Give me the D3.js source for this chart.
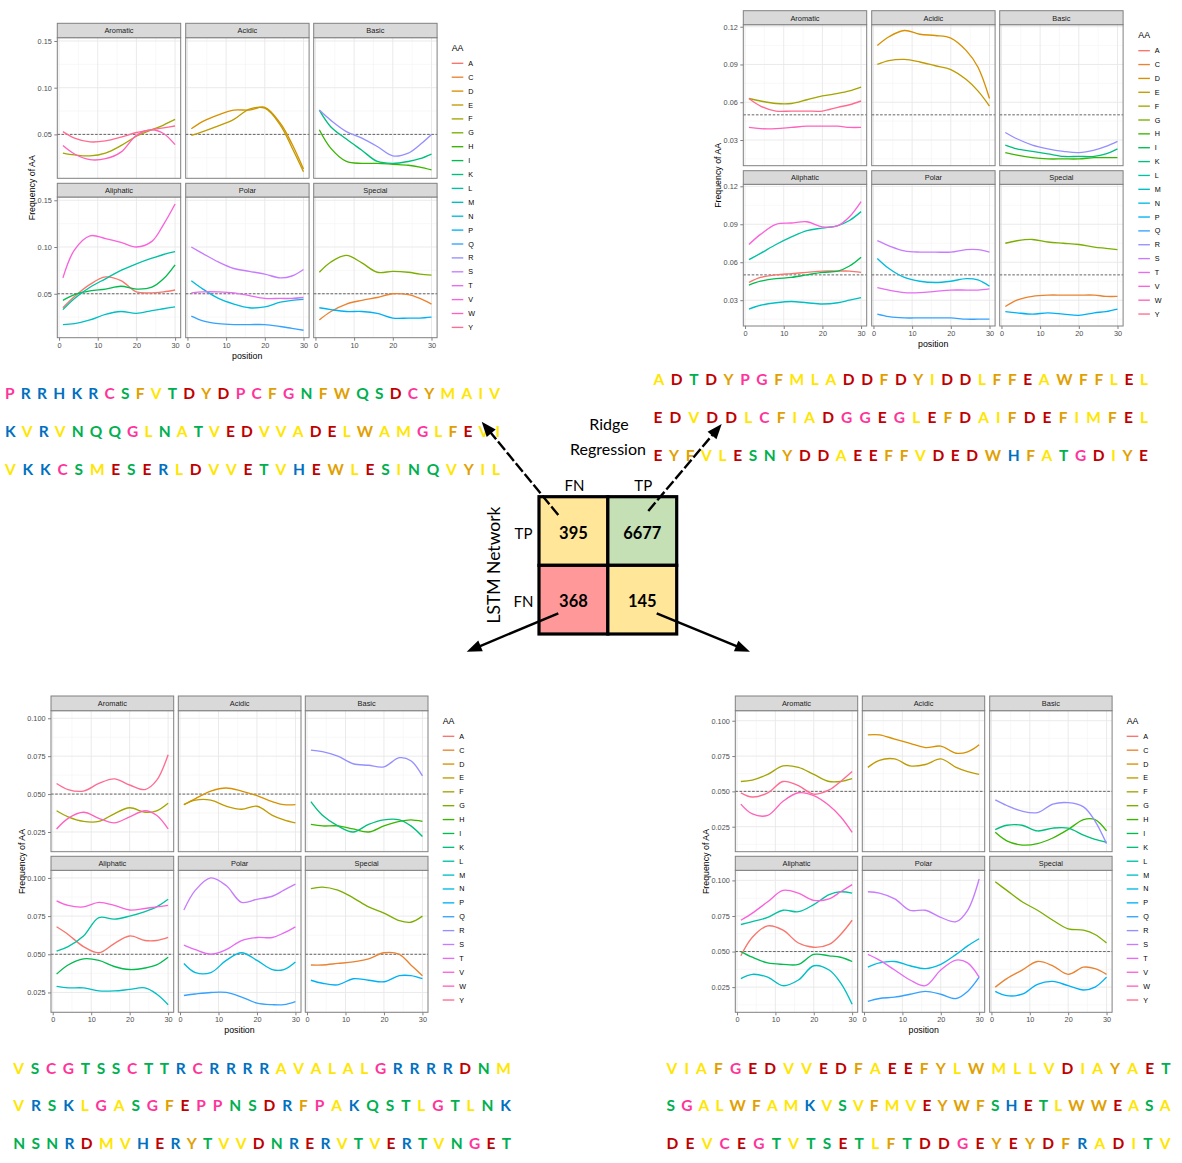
<!DOCTYPE html>
<html><head><meta charset="utf-8">
<script src="https://cdn.jsdelivr.net/npm/d3@7"></script>
<style>body{margin:0;background:#fff} svg{display:block}</style>
</head><body>
<svg id="fig" width="1182" height="1163"></svg>
<script>
// ---------------- DATA ----------------
const AA_LIST = ["A","C","D","E","F","G","H","I","K","L","M","N","P","Q","R","S","T","V","W","Y"];
const AA_COLORS = ["#F8766D","#EA8331","#D89000","#C09B00","#A3A500","#7CAE00","#39B600","#00BB4E","#00BF7D","#00C1A3",
                   "#00BFC4","#00BAE0","#00B0F6","#35A2FF","#9590FF","#C77CFF","#E76BF3","#FA62DB","#FF62BC","#FF6C91"];
const FACETS = ["Aromatic","Acidic","Basic","Aliphatic","Polar","Special"];
const POSITIONS = [1, 4, 8, 12, 16, 20, 24, 27, 30];
const X_TICKS = [0, 10, 20, 30];
const X_MINOR = [5, 15, 25];

// top-left: Ridge FN & LSTM TP (395)
const SERIES_TOP_LEFT = [
  ["Aromatic","F",[0.030,0.028,0.027,0.030,0.038,0.048,0.055,0.060,0.066]],
  ["Aromatic","W",[0.038,0.029,0.023,0.024,0.031,0.049,0.055,0.051,0.039]],
  ["Aromatic","Y",[0.053,0.046,0.042,0.043,0.047,0.052,0.055,0.057,0.059]],
  ["Acidic","D",[0.056,0.064,0.071,0.076,0.076,0.079,0.062,0.040,0.013]],
  ["Acidic","E",[0.049,0.053,0.059,0.066,0.077,0.078,0.060,0.036,0.010]],
  ["Basic","H",[0.055,0.035,0.021,0.019,0.019,0.018,0.017,0.015,0.012]],
  ["Basic","K",[0.076,0.058,0.045,0.033,0.021,0.019,0.021,0.024,0.029]],
  ["Basic","R",[0.076,0.065,0.053,0.046,0.037,0.027,0.030,0.039,0.050]],
  ["Aliphatic","A",[0.035,0.047,0.060,0.068,0.064,0.052,0.051,0.052,0.054]],
  ["Aliphatic","I",[0.043,0.049,0.053,0.055,0.058,0.055,0.057,0.066,0.081]],
  ["Aliphatic","L",[0.033,0.045,0.057,0.066,0.075,0.082,0.088,0.092,0.095]],
  ["Aliphatic","M",[0.017,0.018,0.022,0.028,0.031,0.029,0.032,0.034,0.036]],
  ["Aliphatic","V",[0.067,0.097,0.112,0.109,0.105,0.100,0.106,0.124,0.146]],
  ["Polar","N",[0.064,0.055,0.045,0.039,0.035,0.036,0.041,0.043,0.044]],
  ["Polar","Q",[0.026,0.021,0.018,0.017,0.017,0.017,0.015,0.013,0.011]],
  ["Polar","S",[0.100,0.093,0.084,0.077,0.074,0.071,0.067,0.069,0.076]],
  ["Polar","T",[0.051,0.052,0.052,0.051,0.048,0.045,0.045,0.045,0.046]],
  ["Special","C",[0.022,0.031,0.039,0.043,0.046,0.050,0.049,0.045,0.039]],
  ["Special","G",[0.073,0.084,0.091,0.083,0.073,0.074,0.073,0.071,0.070]],
  ["Special","P",[0.035,0.033,0.031,0.031,0.029,0.024,0.024,0.024,0.025]]
];
// top-right: both TP (6677)
const SERIES_TOP_RIGHT = [
  ["Aromatic","F",[0.063,0.061,0.059,0.059,0.062,0.065,0.067,0.069,0.072]],
  ["Aromatic","W",[0.040,0.039,0.039,0.040,0.041,0.041,0.041,0.040,0.040]],
  ["Aromatic","Y",[0.063,0.057,0.053,0.053,0.053,0.053,0.056,0.058,0.061]],
  ["Acidic","D",[0.105,0.112,0.117,0.114,0.113,0.111,0.101,0.088,0.063]],
  ["Acidic","E",[0.090,0.093,0.094,0.092,0.089,0.086,0.078,0.069,0.057]],
  ["Basic","H",[0.020,0.018,0.016,0.015,0.015,0.015,0.016,0.016,0.016]],
  ["Basic","K",[0.026,0.023,0.021,0.019,0.017,0.017,0.017,0.019,0.023]],
  ["Basic","R",[0.036,0.031,0.026,0.023,0.021,0.020,0.022,0.025,0.029]],
  ["Aliphatic","A",[0.044,0.048,0.050,0.051,0.052,0.053,0.053,0.053,0.052]],
  ["Aliphatic","I",[0.042,0.045,0.047,0.048,0.050,0.052,0.053,0.057,0.064]],
  ["Aliphatic","L",[0.062,0.067,0.074,0.080,0.085,0.087,0.089,0.093,0.100]],
  ["Aliphatic","M",[0.023,0.026,0.028,0.029,0.028,0.027,0.028,0.030,0.032]],
  ["Aliphatic","V",[0.074,0.082,0.090,0.091,0.092,0.088,0.089,0.096,0.108]],
  ["Polar","N",[0.063,0.055,0.048,0.045,0.044,0.045,0.047,0.046,0.041]],
  ["Polar","Q",[0.019,0.017,0.016,0.016,0.016,0.016,0.015,0.015,0.015]],
  ["Polar","S",[0.077,0.073,0.069,0.068,0.068,0.068,0.070,0.070,0.068]],
  ["Polar","T",[0.040,0.038,0.036,0.036,0.037,0.038,0.038,0.038,0.039]],
  ["Special","C",[0.025,0.030,0.033,0.034,0.034,0.034,0.034,0.033,0.033]],
  ["Special","G",[0.075,0.077,0.078,0.076,0.075,0.074,0.072,0.071,0.070]],
  ["Special","P",[0.021,0.020,0.019,0.020,0.019,0.018,0.020,0.021,0.023]]
];
// bottom-left: both FN (368)
const SERIES_BOTTOM_LEFT = [
  ["Aromatic","F",[0.039,0.035,0.032,0.032,0.037,0.041,0.038,0.039,0.044]],
  ["Aromatic","W",[0.027,0.034,0.038,0.034,0.031,0.035,0.039,0.036,0.027]],
  ["Aromatic","Y",[0.057,0.053,0.052,0.057,0.060,0.056,0.053,0.059,0.076]],
  ["Acidic","D",[0.043,0.047,0.052,0.054,0.052,0.049,0.045,0.043,0.043]],
  ["Acidic","E",[0.043,0.046,0.046,0.042,0.040,0.042,0.036,0.033,0.031]],
  ["Basic","H",[0.030,0.029,0.029,0.027,0.025,0.029,0.032,0.033,0.032]],
  ["Basic","K",[0.045,0.036,0.029,0.025,0.030,0.033,0.033,0.029,0.022]],
  ["Basic","R",[0.079,0.078,0.075,0.070,0.069,0.068,0.074,0.072,0.062]],
  ["Aliphatic","A",[0.068,0.063,0.055,0.051,0.057,0.062,0.059,0.059,0.061]],
  ["Aliphatic","I",[0.037,0.043,0.047,0.046,0.042,0.040,0.041,0.043,0.048]],
  ["Aliphatic","L",[0.052,0.055,0.062,0.074,0.073,0.075,0.078,0.081,0.086]],
  ["Aliphatic","M",[0.029,0.028,0.028,0.026,0.026,0.027,0.028,0.024,0.017]],
  ["Aliphatic","V",[0.085,0.082,0.081,0.084,0.082,0.079,0.080,0.081,0.082]],
  ["Polar","N",[0.044,0.038,0.038,0.046,0.051,0.046,0.040,0.040,0.045]],
  ["Polar","Q",[0.023,0.024,0.025,0.025,0.022,0.018,0.017,0.017,0.019]],
  ["Polar","S",[0.079,0.092,0.100,0.095,0.084,0.086,0.088,0.092,0.096]],
  ["Polar","T",[0.056,0.053,0.050,0.053,0.059,0.061,0.061,0.064,0.068]],
  ["Special","C",[0.043,0.043,0.044,0.045,0.047,0.051,0.050,0.043,0.036]],
  ["Special","G",[0.093,0.094,0.092,0.087,0.081,0.077,0.072,0.071,0.075]],
  ["Special","P",[0.033,0.031,0.030,0.034,0.033,0.032,0.036,0.036,0.034]]
];
// bottom-right: LSTM FN & Ridge TP (145)
const SERIES_BOTTOM_RIGHT = [
  ["Aromatic","F",[0.057,0.058,0.062,0.068,0.067,0.062,0.057,0.057,0.059]],
  ["Aromatic","W",[0.041,0.034,0.033,0.043,0.049,0.047,0.040,0.032,0.021]],
  ["Aromatic","Y",[0.049,0.046,0.049,0.057,0.054,0.048,0.051,0.057,0.064]],
  ["Acidic","D",[0.090,0.090,0.087,0.084,0.081,0.082,0.077,0.078,0.083]],
  ["Acidic","E",[0.067,0.072,0.073,0.068,0.069,0.073,0.067,0.064,0.062]],
  ["Basic","H",[0.021,0.015,0.012,0.013,0.017,0.023,0.030,0.030,0.022]],
  ["Basic","K",[0.023,0.026,0.026,0.022,0.024,0.024,0.019,0.016,0.014]],
  ["Basic","R",[0.044,0.040,0.036,0.035,0.041,0.042,0.039,0.029,0.013]],
  ["Aliphatic","A",[0.047,0.060,0.068,0.065,0.056,0.053,0.055,0.062,0.072]],
  ["Aliphatic","I",[0.050,0.046,0.042,0.041,0.041,0.048,0.047,0.046,0.043]],
  ["Aliphatic","L",[0.069,0.071,0.074,0.079,0.078,0.083,0.090,0.092,0.091]],
  ["Aliphatic","M",[0.031,0.034,0.032,0.026,0.030,0.040,0.037,0.028,0.013]],
  ["Aliphatic","V",[0.072,0.077,0.085,0.093,0.091,0.086,0.087,0.092,0.097]],
  ["Polar","N",[0.039,0.042,0.043,0.040,0.038,0.041,0.048,0.054,0.059]],
  ["Polar","Q",[0.015,0.017,0.018,0.020,0.022,0.020,0.017,0.022,0.032]],
  ["Polar","S",[0.092,0.091,0.087,0.079,0.079,0.074,0.071,0.079,0.101]],
  ["Polar","T",[0.048,0.044,0.037,0.030,0.026,0.037,0.044,0.042,0.032]],
  ["Special","C",[0.025,0.031,0.037,0.043,0.040,0.034,0.039,0.038,0.034]],
  ["Special","G",[0.099,0.093,0.085,0.079,0.072,0.066,0.065,0.062,0.056]],
  ["Special","P",[0.022,0.019,0.020,0.027,0.029,0.026,0.023,0.025,0.032]]
];

// example sequences
const SEQ_TOP_LEFT = ["PRRHKRCSFVTDYDPCFGNFWQSDCYMAIV","KVRVNQQGLNATVEDVVADELWAMGLFEVI","VKKCSMESERLDVVETVHEWLESINQVYIL"];
const SEQ_TOP_RIGHT = ["ADTDYPGFMLADDFDYIDDLFFEAWFFLEL","EDVDDLCFIADGGEGLEFDAIFDEFIMFEL","EYFVLESNYDDAEEFFVDEDWHFATGDIYE"];
const SEQ_BOTTOM_LEFT = ["VSCGTSSCTTRCRRRRAVALALGRRRRDNM","VRSKLGASGFEPPNSDRFPAKQSTLGTLNK","NSNRDMVHERYTVVDNRERVTVERTVNGET"];
const SEQ_BOTTOM_RIGHT = ["VIAFGEDVVEDFAEEFYLWMLLVDIAYAET","SGALWFAMKVSVFMVEYWFSHETLWWEASA","DEVCEGTVTSETLFTDDGEYEYDFRADITV"];
const RESIDUE_CLASSES = ["AVILM","FWY","DE","RKH","STNQ","CGP"];
const RESIDUE_CLASS_COLORS = ["#FFE600","#E1A000","#C00000","#0070C0","#00B050","#FF3399"];

// confusion matrix
const CM_ROW_LABELS = ["TP","FN"];   // LSTM Network
const CM_COL_LABELS = ["FN","TP"];   // Ridge Regression
const CM_VALUES = [[395, 6677],[368, 145]];
const CM_FILLS = [["#FFE699","#C5E0B4"],["#FF9999","#FFE699"]];

// ---------------- DRAW ----------------
const svg = d3.select("#fig");
svg.append("rect").attr("width",1182).attr("height",1163).attr("fill","#fff");
const CHART_FONT = "'Liberation Sans', Arial, sans-serif";
const X_DOMAIN = [-0.45, 31.45];
const colorOf = aa => AA_COLORS[AA_LIST.indexOf(aa)];

function drawFacets(cfg, seriesRows) {
  const g = svg.append("g").attr("font-family", CHART_FONT);
  const step = cfg.yTicks[1] - cfg.yTicks[0];
  const yMinor = [];
  for (let v = cfg.yTicks[0] - step/2; v <= cfg.yDomain[1]; v += step) if (v >= cfg.yDomain[0]) yMinor.push(v);
  FACETS.forEach((facet, i) => {
    const col = i % 3, rowIdx = Math.floor(i / 3);
    const r = cfg.rows[rowIdx];
    const left = cfg.panelX[col], w = cfg.panelW;
    const xs = d3.scaleLinear().domain(X_DOMAIN).range([left, left + w]);
    const ys = d3.scaleLinear().domain(cfg.yDomain).range([r.plotBottom, r.plotTop]);
    const p = g.append("g");
    p.append("rect").attr("x", left).attr("y", r.plotTop).attr("width", w).attr("height", r.plotBottom - r.plotTop).attr("fill", "#fff");
    // grid
    p.selectAll(null).data(X_MINOR).join("line")
      .attr("x1", d => xs(d)).attr("x2", d => xs(d)).attr("y1", r.plotTop).attr("y2", r.plotBottom)
      .attr("stroke", "#F3F3F3").attr("stroke-width", 0.6);
    p.selectAll(null).data(yMinor).join("line")
      .attr("y1", d => ys(d)).attr("y2", d => ys(d)).attr("x1", left).attr("x2", left + w)
      .attr("stroke", "#F3F3F3").attr("stroke-width", 0.6);
    p.selectAll(null).data(X_TICKS).join("line")
      .attr("x1", d => xs(d)).attr("x2", d => xs(d)).attr("y1", r.plotTop).attr("y2", r.plotBottom)
      .attr("stroke", "#E8E8E8").attr("stroke-width", 0.9);
    p.selectAll(null).data(cfg.yTicks).join("line")
      .attr("y1", d => ys(d)).attr("y2", d => ys(d)).attr("x1", left).attr("x2", left + w)
      .attr("stroke", "#E8E8E8").attr("stroke-width", 0.9);
    // reference line 0.05
    p.append("line").attr("x1", left).attr("x2", left + w).attr("y1", ys(0.05)).attr("y2", ys(0.05))
      .attr("stroke", "#555").attr("stroke-width", 0.9).attr("stroke-dasharray", "2.6,1.6");
    // series
    const line = d3.line().x((d, k) => xs(POSITIONS[k])).y(d => ys(d)).curve(d3.curveCatmullRom.alpha(0.5));
    const rows = seriesRows.filter(s => s[0] === facet);
    p.selectAll(null).data(rows).join("path")
      .attr("d", d => line(d[2])).attr("fill", "none")
      .attr("stroke", d => colorOf(d[1])).attr("stroke-width", 1.35);
    // border
    p.append("rect").attr("x", left).attr("y", r.plotTop).attr("width", w).attr("height", r.plotBottom - r.plotTop)
      .attr("fill", "none").attr("stroke", "#808080").attr("stroke-width", 1);
    // strip
    p.append("rect").attr("x", left).attr("y", r.stripTop).attr("width", w).attr("height", r.plotTop - r.stripTop)
      .attr("fill", "#D9D9D9").attr("stroke", "#808080").attr("stroke-width", 1);
    p.append("text").attr("x", left + w/2).attr("y", (r.stripTop + r.plotTop)/2 + 0.3)
      .attr("text-anchor", "middle").attr("dominant-baseline", "central")
      .attr("font-size", 7.4).attr("fill", "#1A1A1A").text(facet);
    // axes
    if (col === 0) {
      const ax = p.append("g").attr("transform", `translate(${left},0)`)
        .call(d3.axisLeft(ys).tickValues(cfg.yTicks).tickFormat(d3.format(cfg.yFmt)).tickSize(3).tickPadding(2.5));
      ax.select(".domain").remove();
      ax.selectAll("line").attr("stroke", "#808080");
      ax.selectAll("text").attr("font-size", 7.3).attr("fill", "#4D4D4D").attr("font-family", CHART_FONT);
    }
    if (rowIdx === 1) {
      const ax = p.append("g").attr("transform", `translate(0,${r.plotBottom})`)
        .call(d3.axisBottom(xs).tickValues(X_TICKS).tickFormat(d3.format("d")).tickSize(3).tickPadding(2));
      ax.select(".domain").remove();
      ax.selectAll("line").attr("stroke", "#808080");
      ax.selectAll("text").attr("font-size", 7.3).attr("fill", "#4D4D4D").attr("font-family", CHART_FONT);
    }
  });
  // axis titles
  const midX = (cfg.panelX[0] + cfg.panelX[2] + cfg.panelW) / 2;
  g.append("text").attr("x", midX).attr("y", cfg.rows[1].plotBottom + 18)
    .attr("text-anchor", "middle").attr("dominant-baseline", "central").attr("font-size", 8.8).attr("fill", "#000").text("position");
  const midY = (cfg.rows[0].plotTop + cfg.rows[1].plotBottom) / 2;
  g.append("text").attr("transform", `translate(${cfg.ylabX},${midY}) rotate(-90)`)
    .attr("text-anchor", "middle").attr("dominant-baseline", "central").attr("font-size", 8.8).attr("fill", "#000").text("Frequency of AA");
  // legend
  const lg = g.append("g");
  lg.append("text").attr("x", cfg.legendX).attr("y", cfg.legendTitleY).attr("dominant-baseline", "central")
    .attr("font-size", 8.8).attr("fill", "#000").text("AA");
  const items = lg.selectAll(null).data(AA_LIST).join("g")
    .attr("transform", (d, k) => `translate(${cfg.legendX},${cfg.legendFirstY + k * cfg.legendStep})`);
  items.append("line").attr("x1", 0).attr("x2", 11.6).attr("stroke", d => colorOf(d)).attr("stroke-width", 1.35);
  items.append("text").attr("x", 16.5).attr("dominant-baseline", "central").attr("font-size", 7.2).attr("fill", "#000").text(d => d);
}

const ROWS_TOP1 = [{stripTop:23.3, plotTop:37.7, plotBottom:178.3},{stripTop:183.3, plotTop:197, plotBottom:337.7}];
const ROWS_TOP2 = [{stripTop:10.7, plotTop:24.7, plotBottom:165.7},{stripTop:170.7, plotTop:184.3, plotBottom:326}];
const ROWS_BOT = [{stripTop:696, plotTop:710.7, plotBottom:851.7},{stripTop:856.3, plotTop:870.3, plotBottom:1012.3}];

drawFacets({panelX:[57.3,185.7,313.7], panelW:123.4, rows:ROWS_TOP1, yDomain:[0.003,0.1535], yTicks:[0.05,0.10,0.15], yFmt:".2f",
  legendX:451.7, legendTitleY:48, legendFirstY:63.3, legendStep:13.9, ylabX:31.7}, SERIES_TOP_LEFT);
drawFacets({panelX:[743.3,871.7,999.7], panelW:123.4, rows:ROWS_TOP2, yDomain:[0.0096,0.1216], yTicks:[0.03,0.06,0.09,0.12], yFmt:".2f",
  legendX:1138.3, legendTitleY:35, legendFirstY:50.7, legendStep:13.86, ylabX:718.3}, SERIES_TOP_RIGHT);
drawFacets({panelX:[51,178.3,305.3], panelW:122.7, rows:ROWS_BOT, yDomain:[0.012,0.105], yTicks:[0.025,0.05,0.075,0.1], yFmt:".3f",
  legendX:442.7, legendTitleY:721, legendFirstY:736.3, legendStep:13.88, ylabX:21.7}, SERIES_BOTTOM_LEFT);
drawFacets({panelX:[735.3,862.3,989.7], panelW:122.4, rows:ROWS_BOT, yDomain:[0.0073,0.1071], yTicks:[0.025,0.05,0.075,0.1], yFmt:".3f",
  legendX:1126.7, legendTitleY:721, legendFirstY:736.3, legendStep:13.88, ylabX:706}, SERIES_BOTTOM_RIGHT);

// ---------------- sequences ----------------
const SEQ_FONT = "Lato, 'Open Sans', sans-serif";
const SEQ_SIZE = 15.5;
const measure = svg.append("text").attr("font-family", SEQ_FONT).attr("font-weight", 700).attr("font-size", SEQ_SIZE).attr("x", -500).attr("y", -500);
const widthCache = {};
function glyphW(c) {
  if (!(c in widthCache)) { measure.text(c === " " ? "\u00a0" : c); widthCache[c] = measure.node().getComputedTextLength(); }
  return widthCache[c];
}
function resColor(c) {
  const k = RESIDUE_CLASSES.findIndex(s => s.includes(c));
  return RESIDUE_CLASS_COLORS[k];
}
function drawSeqBlock(rows, x0, x1, baselines) {
  const g = svg.append("g").attr("font-family", SEQ_FONT).attr("font-weight", 700).attr("font-size", SEQ_SIZE);
  rows.forEach((row, ri) => {
    const glyphs = row.split("").join(" ").split("");
    const natural = d3.sum(glyphs, glyphW);
    const extra = (x1 - x0 - natural) / (glyphs.length - 1);
    let x = x0;
    const placed = [];
    glyphs.forEach(c => { if (c !== " ") placed.push({c, x}); x += glyphW(c) + extra; });
    g.selectAll(null).data(placed).join("text")
      .attr("x", d => d.x).attr("y", baselines[ri]).attr("fill", d => resColor(d.c)).text(d => d.c);
  });
}
drawSeqBlock(SEQ_TOP_LEFT, 5, 500, [398.5, 436.8, 474.5]);
drawSeqBlock(SEQ_TOP_RIGHT, 653.5, 1148, [385.2, 422.5, 461.2]);
drawSeqBlock(SEQ_BOTTOM_LEFT, 13.3, 511, [1073.5, 1111.2, 1149.2]);
drawSeqBlock(SEQ_BOTTOM_RIGHT, 666.5, 1170.5, [1073.5, 1111.2, 1149.2]);
measure.remove();

// ---------------- confusion matrix ----------------
const CM_FONT = "Lato, 'Open Sans', sans-serif";
const cmX = d3.scaleBand().domain(CM_COL_LABELS.map((d,i)=>i)).range([539, 676.7]);
const cmY = d3.scaleBand().domain(CM_ROW_LABELS.map((d,i)=>i)).range([496.7, 634]);
const cm = svg.append("g").attr("font-family", CM_FONT);
CM_VALUES.forEach((rowVals, ri) => rowVals.forEach((v, ci) => {
  cm.append("rect").attr("x", cmX(ci)).attr("y", cmY(ri)).attr("width", cmX.bandwidth()).attr("height", cmY.bandwidth())
    .attr("fill", CM_FILLS[ri][ci]).attr("stroke", "#000").attr("stroke-width", 3.2);
  cm.append("text").attr("x", cmX(ci) + cmX.bandwidth()/2).attr("y", cmY(ri) + cmY.bandwidth()/2 + 7.8)
    .attr("text-anchor", "middle").attr("font-weight", 700).attr("font-size", 16.5).attr("fill", "#000").text(v);
}));
CM_COL_LABELS.forEach((l, ci) => cm.append("text").attr("x", cmX(ci) + cmX.bandwidth()/2 + 1).attr("y", 491)
  .attr("text-anchor", "middle").attr("font-size", 15).attr("fill", "#000").text(l));
CM_ROW_LABELS.forEach((l, ri) => cm.append("text").attr("x", 523.5).attr("y", cmY(ri) + cmY.bandwidth()/2 + 7.5)
  .attr("text-anchor", "middle").attr("font-size", 15).attr("fill", "#000").text(l));
cm.append("text").attr("transform", "translate(493.5,565) rotate(-90)").attr("text-anchor", "middle")
  .attr("dominant-baseline", "central").attr("font-size", 17.5).attr("fill", "#000").text("LSTM Network");
cm.append("text").attr("x", 609).attr("y", 430).attr("text-anchor", "middle").attr("font-size", 16).attr("fill", "#000").text("Ridge");
cm.append("text").attr("x", 608).attr("y", 455).attr("text-anchor", "middle").attr("font-size", 16).attr("fill", "#000").text("Regression");

// arrows
function arrow(x1, y1, x2, y2, dashed) {
  const dx = x2 - x1, dy = y2 - y1, L = Math.hypot(dx, dy);
  const ux = dx / L, uy = dy / L, px = -uy, py = ux;
  const hl = 15, hw = 5.8;
  svg.append("line").attr("x1", x1).attr("y1", y1).attr("x2", x2 - ux * (hl - 3)).attr("y2", y2 - uy * (hl - 3))
    .attr("stroke", "#000").attr("stroke-width", 2.4).attr("stroke-dasharray", dashed ? "11,3" : null);
  const bx = x2 - ux * hl, by = y2 - uy * hl;
  svg.append("path").attr("d", `M${x2},${y2}L${bx + px*hw},${by + py*hw}L${bx - px*hw},${by - py*hw}Z`).attr("fill", "#000");
}
arrow(558.3, 515, 481.7, 421.7, true);
arrow(648.3, 511, 721.7, 424, true);
arrow(558.3, 613.3, 466.7, 651.7, false);
arrow(656.7, 613.3, 750, 651.7, false);
</script>
</body></html>
